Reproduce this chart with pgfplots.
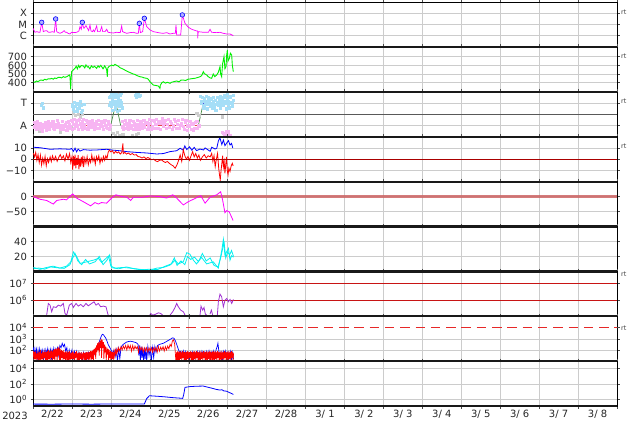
\documentclass[border=0pt]{standalone}
\usepackage{fontspec}
\setmainfont{DejaVu Sans}
\usepackage{pgfplots}
\pgfplotsset{compat=1.18}
\definecolor{mag}{RGB}{255,0,255}
\definecolor{grn}{RGB}{0,240,0}
\definecolor{cyn}{RGB}{0,240,240}
\definecolor{purp}{RGB}{160,50,210}
\definecolor{pinkpt}{RGB}{247,180,242}
\definecolor{bluept}{RGB}{165,222,247}
\definecolor{graypt}{RGB}{205,205,205}
\definecolor{sred}{RGB}{230,70,70}
\definecolor{sgreen}{RGB}{70,140,70}
\definecolor{sblue}{RGB}{80,80,230}
\definecolor{dred}{RGB}{170,0,0}
\definecolor{lred}{RGB}{200,20,20}
\definecolor{dashred}{RGB}{230,40,40}
\definecolor{ired}{RGB}{205,100,100}
\definecolor{circfill}{RGB}{175,175,255}
\pgfplotsset{
  panel/.style={
    scale only axis, width=584pt, height=44.9pt,
    anchor=south west, xmin=0, xmax=15,
    xtick={0,...,15}, xticklabels={},
    grid=major, major grid style={draw=black!20, line width=0.5pt},
    axis line style={black, line width=0.6pt},
    tick style={black!70, line width=0.4pt}, major tick length=2.5pt,
    tick align=outside, xtick pos=both, ytick pos=both,
    tick label style={font=\fontsize{10}{12}\selectfont, text=black!85},
    /pgf/number format/assume math mode=true,
    clip=true,
  },
  dots/.style={only marks, mark=square*, mark size=1.1pt, color=#1, mark options={draw=#1, fill=#1, line width=0.1pt}},
}
\begin{document}
\begin{tikzpicture}
\path[use as bounding box] (0,0) rectangle (634pt,424pt);

% Panel 1: X-ray flux
\begin{axis}[panel, at={(33pt,377.1pt)}, ymin=-7, ymax=-3,
  ytick={-6,-5,-4}, yticklabels={C,M,X}]
\addplot[mag, line width=0.7pt] coordinates {
(0.00,-5.34) (0.05,-5.70) (0.10,-5.64) (0.15,-5.70) (0.18,-5.70) (0.223,-4.81) (0.265,-5.64) (0.30,-5.58) (0.351,-5.55) (0.40,-5.70) (0.437,-5.70) (0.50,-5.64) (0.548,-5.70) (0.582,-4.51) (0.608,-5.64) (0.65,-5.73) (0.694,-5.79) (0.75,-5.70) (0.80,-5.55) (0.83,-5.70) (0.865,-5.70) (0.90,-5.79) (0.95,-5.85) (0.993,-5.70) (1.05,-5.73) (1.122,-5.70) (1.18,-5.58) (1.207,-5.19) (1.24,-5.43) (1.267,-4.81) (1.29,-5.19) (1.31,-5.34) (1.361,-5.10) (1.396,-5.34) (1.43,-5.55) (1.464,-5.04) (1.49,-5.58) (1.53,-5.64) (1.550,-5.49) (1.58,-5.64) (1.635,-5.13) (1.66,-5.64) (1.721,-5.64) (1.764,-5.19) (1.79,-5.64) (1.849,-5.64) (1.892,-5.43) (1.93,-5.70) (1.978,-5.73) (2.064,-5.76) (2.149,-5.70) (2.24,-5.73) (2.278,-5.13) (2.30,-5.64) (2.406,-5.79) (2.492,-5.73) (2.577,-5.70) (2.663,-5.79) (2.706,-5.79) (2.731,-4.90) (2.757,-5.73) (2.817,-5.64) (2.860,-4.45) (2.92,-5.19) (3.005,-5.49) (3.091,-5.64) (3.177,-5.70) (3.26,-5.76) (3.348,-5.79) (3.434,-5.73) (3.519,-5.85) (3.605,-5.79) (3.656,-5.79) (3.673,-5.04) (3.690,-5.94) (3.793,-5.94) (3.836,-4.15) (3.904,-4.90) (3.99,-5.25) (4.076,-5.43) (4.204,-5.58) (4.228,-5.58) (4.230,-6.23) (4.245,-5.64) (4.375,-5.70) (4.504,-5.70) (4.547,-5.43) (4.589,-5.70) (4.717,-5.73) (4.803,-5.70) (4.889,-5.79) (4.975,-5.85) (5.06,-5.85) (5.145,-6.00)
};
\addplot[only marks, mark=*, mark size=2.3pt, mark options={draw=blue, fill=circfill, line width=0.6pt}] coordinates {
(0.223,-4.81) (0.582,-4.51) (1.267,-4.81) (2.731,-4.90) (2.860,-4.45) (3.836,-4.15)
};
\end{axis}

% Panel 2: speed
\begin{axis}[panel, at={(33pt,332.2pt)}, ymin=295, ymax=813,
  ytick={400,500,600,700}, yticklabels={400,500,600,700}]
\addplot[grn, line width=0.9pt] coordinates {
(0.009,411) (0.05,405) (0.09,420) (0.13,412) (0.18,428) (0.223,431) (0.26,425) (0.30,440) (0.34,432) (0.39,445) (0.437,443) (0.48,450) (0.52,440) (0.56,455) (0.60,448) (0.65,462) (0.694,462) (0.73,455) (0.78,470) (0.82,462) (0.865,469) (0.90,478) (0.933,489) (0.950,470) (0.968,324) (0.975,420) (0.993,527) (1.03,545) (1.079,566) (1.11,590) (1.14,560) (1.17,600) (1.20,575) (1.24,598) (1.293,593) (1.33,570) (1.36,605) (1.40,580) (1.421,585) (1.46,560) (1.50,595) (1.54,575) (1.58,590) (1.635,566) (1.67,595) (1.70,578) (1.74,600) (1.764,585) (1.80,560) (1.84,595) (1.87,575) (1.892,546) (1.909,469) (1.92,570) (1.96,590) (2.00,598) (2.021,604) (2.06,595) (2.106,612) (2.15,600) (2.19,590) (2.235,573) (2.30,560) (2.35,548) (2.406,535) (2.45,525) (2.50,515) (2.577,500) (2.62,495) (2.68,480) (2.749,469) (2.80,465) (2.86,455) (2.920,451) (2.96,440) (3.005,411) (3.05,390) (3.091,373) (3.15,368) (3.219,362) (3.262,335) (3.27,370) (3.31,400) (3.348,411) (3.40,395) (3.45,405) (3.519,393) (3.56,405) (3.62,412) (3.690,420) (3.75,410) (3.80,430) (3.862,431) (3.92,425) (3.98,440) (4.033,443) (4.10,448) (4.17,452) (4.23,460) (4.290,469) (4.33,480) (4.375,527) (4.40,505) (4.461,489) (4.50,470) (4.55,455) (4.589,451) (4.63,500) (4.67,470) (4.718,489) (4.76,520) (4.803,585) (4.82,500) (4.846,469) (4.87,620) (4.906,700) (4.93,560) (4.958,585) (4.975,720) (4.992,777) (5.01,650) (5.043,681) (5.07,740) (5.103,720) (5.12,600) (5.146,527)
};
\end{axis}

% Panel 3: sector
\begin{axis}[panel, at={(33pt,287.3pt)}, ymin=-2, ymax=2,
  ytick={-1,1}, yticklabels={A,T}]
\addplot[black!65, line width=0.7pt] coordinates {(0,0) (15,0)};
\addplot[dots=graypt] coordinates {
(1.02,0.1) (1.08,-0.1) (1.15,0.05) (1.2,-0.2) (1.25,0.0) (2.05,-1.7) (2.1,-1.9) (2.15,-1.6) (2.2,-1.85) (2.65,-1.8) (2.7,-1.7) (2.05,1.9) (2.12,1.85) (2.2,1.9) (4.2,0.1) (4.25,-0.1) (4.85,-0.2) (5.0,-1.9) (0.15,-1.5) (0.7,-1.6) (2.3,-1.75) (2.55,-1.85)
};
\addplot[dots=pinkpt] coordinates {
(0.02,-1.1) (0.05,-0.9) (0.08,-1.2) (0.1,-1.0) (0.12,-0.8) (0.15,-1.05) (0.18,-1.3) (0.21,-0.95) (0.24,-1.15) (0.27,-0.85) (0.3,-1.0) (0.33,-1.4) (0.36,-0.9) (0.4,-1.1) (0.44,-0.75) (0.48,-1.0) (0.52,-1.2) (0.56,-0.9) (0.6,-1.05) (0.64,-0.8) (0.68,-1.15) (0.72,-0.95) (0.76,-1.3) (0.8,-1.0) (0.84,-0.7) (0.88,-1.1) (0.92,-0.9) (0.96,-1.25) (1.0,-0.6) (1.03,-0.9) (1.06,-1.2) (1.1,-0.7) (1.13,-1.0) (1.16,-0.55) (1.2,-0.85) (1.23,-1.1) (1.27,-0.65) (1.3,-0.9) (1.34,-1.2) (1.38,-0.7) (1.42,-1.0) (1.46,-0.8) (1.5,-1.15) (1.54,-0.75) (1.58,-1.0) (1.62,-0.6) (1.66,-0.9) (1.7,-1.2) (1.74,-0.8) (1.78,-1.05) (1.82,-0.7) (1.86,-0.95) (1.9,-1.25) (1.94,-0.85) (1.98,-1.0)
(2.3,-1.1) (2.34,-0.9) (2.38,-1.2) (2.42,-1.0) (2.46,-0.8) (2.5,-1.1) (2.54,-0.95) (2.58,-1.3) (2.62,-1.0) (2.66,-0.85) (2.7,-1.15) (2.74,-0.9) (2.78,-1.0) (2.82,-0.85) (2.86,-1.1) (2.92,-0.7) (2.96,-1.0) (3.0,-0.75) (3.05,-1.05) (3.1,-0.6) (3.15,-0.9) (3.2,-1.2) (3.25,-0.8) (3.3,-0.65) (3.35,-1.0) (3.4,-0.55) (3.45,-0.9) (3.5,-1.15) (3.55,-0.75) (3.6,-1.0) (3.65,-0.6) (3.7,-0.9) (3.75,-1.2) (3.8,-0.8) (3.85,-1.05) (3.9,-0.7) (3.95,-1.4) (4.0,-1.0) (4.05,-1.3) (4.1,-0.9) (4.15,-1.2) (4.2,-0.6) (4.25,-1.0) (4.85,-1.6) (4.9,-1.8) (4.95,-1.5) (5.0,-1.7) (5.05,-1.9)
(0.03,-0.7) (0.07,-1.35) (0.11,-0.6) (0.14,-1.25) (0.19,-0.75) (0.23,-1.45) (0.26,-1.1) (0.31,-0.7) (0.35,-1.2) (0.38,-0.6) (0.42,-1.3) (0.46,-0.95) (0.5,-0.65) (0.54,-1.35) (0.58,-1.1) (0.62,-0.55) (0.66,-1.0) (0.7,-1.35) (0.74,-0.6) (0.78,-1.15) (0.82,-0.9) (0.86,-1.4) (0.9,-0.65) (0.94,-1.1) (0.98,-0.5) (1.01,-1.3) (1.05,-0.4) (1.08,-1.0) (1.12,-0.5) (1.15,-1.35) (1.18,-0.4) (1.22,-0.75) (1.25,-1.3) (1.29,-0.45) (1.32,-1.1) (1.36,-0.5) (1.4,-1.3) (1.44,-0.6) (1.48,-0.95) (1.52,-0.5) (1.56,-1.3) (1.6,-0.85) (1.64,-1.2) (1.68,-0.55) (1.72,-1.05) (1.76,-0.6) (1.8,-1.3) (1.84,-0.5) (1.88,-1.1) (1.92,-0.6) (1.96,-1.35)
(2.28,-0.6) (2.32,-1.35) (2.36,-0.55) (2.4,-0.75) (2.44,-1.3) (2.48,-0.5) (2.52,-1.25) (2.56,-0.6) (2.6,-0.8) (2.64,-1.35) (2.68,-0.5) (2.72,-1.3) (2.76,-0.6) (2.8,-1.25) (2.84,-0.5) (2.88,-0.75) (2.94,-1.3) (2.98,-0.45) (3.02,-1.3) (3.07,-0.5) (3.12,-1.25) (3.17,-0.4) (3.22,-0.6) (3.27,-1.3) (3.32,-0.35) (3.37,-0.75) (3.42,-1.25) (3.47,-0.4) (3.52,-0.6) (3.57,-1.3) (3.62,-0.4) (3.67,-1.25) (3.72,-0.5) (3.77,-0.95) (3.82,-0.45) (3.87,-1.3) (3.92,-0.5) (3.97,-1.0) (4.02,-0.6) (4.07,-0.8) (4.12,-1.4) (4.17,-0.7) (4.22,-1.2) (4.88,-1.65) (4.93,-1.75) (5.02,-1.55)
};
\addplot[dots=bluept] coordinates {
(0.2,0.8) (0.23,1.0) (0.25,0.6) (1.0,0.9) (1.03,0.5) (1.06,1.1) (1.09,0.7) (1.12,0.3) (1.15,0.95) (1.18,0.6) (1.21,1.2) (1.24,0.8) (1.27,0.4) (1.3,0.9) (1.95,1.5) (1.98,1.1) (2.0,0.7) (2.02,1.8) (2.04,1.3) (2.06,0.9) (2.08,1.6) (2.1,0.5) (2.12,1.2) (2.14,1.85) (2.16,0.8) (2.18,1.4) (2.2,1.0) (2.22,0.4) (2.24,1.7) (2.26,1.1) (2.28,0.6) (2.62,1.7) (2.65,1.5) (2.68,1.8) (2.71,1.6) (2.74,1.7) (4.3,1.6) (4.33,1.2) (4.36,0.8) (4.39,1.4) (4.42,0.9) (4.45,1.1) (4.48,0.5) (4.51,1.3) (4.54,0.7) (4.57,1.0) (4.6,0.6) (4.63,1.2) (4.66,0.9) (4.69,0.4) (4.72,1.1) (4.75,0.8) (4.78,1.3) (4.81,0.6) (4.84,1.5) (4.87,1.0) (4.9,1.7) (4.93,1.2) (4.96,0.5) (4.99,1.4) (5.02,0.9) (5.05,1.6) (5.08,1.1) (5.11,0.7) (5.14,1.3)
(1.01,0.7) (1.05,0.3) (1.1,1.0) (1.14,0.5) (1.19,0.9) (1.23,0.2) (1.96,0.8) (1.99,1.6) (2.01,1.0) (2.03,0.4) (2.05,1.5) (2.07,1.1) (2.09,1.9) (2.11,0.8) (2.13,1.5) (2.15,0.3) (2.17,1.1) (2.19,1.7) (2.21,0.7) (2.23,1.3) (2.25,1.9) (2.27,0.9) (2.64,1.85) (2.7,1.9) (4.31,1.0) (4.35,1.5) (4.38,0.6) (4.41,1.2) (4.44,1.6) (4.47,0.9) (4.5,1.5) (4.53,1.0) (4.56,1.4) (4.59,0.8) (4.62,1.5) (4.65,0.6) (4.68,1.3) (4.71,0.9) (4.74,1.5) (4.77,1.0) (4.8,1.6) (4.83,0.9) (4.86,1.3) (4.89,0.8) (4.92,1.5) (4.95,1.0) (4.98,1.8) (5.01,1.2) (5.04,0.6) (5.07,1.5) (5.1,1.0) (5.13,1.7)
};
\addplot[sred, line width=0.8pt] coordinates {(0,-1) (1.995,-1)};
\addplot[sgreen, line width=0.7pt] coordinates {(1.995,-1) (2.13,1) (2.252,-1)};
\addplot[sred, line width=0.8pt] coordinates {(2.252,-1) (4.247,-1)};
\addplot[sgreen, line width=0.7pt] coordinates {(4.247,-1) (4.375,1)};
\addplot[sblue, line width=0.8pt] coordinates {(4.375,1) (5.018,1)};
\end{axis}

% Panel 4: Bt / Bz
\begin{axis}[panel, at={(33pt,242.4pt)}, ymin=-20, ymax=20,
  ytick={-10,0,10}, yticklabels={−10,0,10}]
\addplot[blue, line width=0.8pt] coordinates {
(0.01,10.6) (0.18,10.2) (0.44,8.8) (0.69,9.2) (0.95,8.8) (0.99,9.5) (1.04,7.0) (1.08,9.8) (1.12,6.5) (1.16,9.0) (1.21,7.2) (1.29,8.5) (1.46,8.0) (1.64,8.2) (1.89,8.8) (2.06,8.0) (2.23,7.5) (2.41,6.7) (2.66,6.0) (2.92,5.5) (3.18,4.6) (3.35,5.0) (3.52,6.7) (3.69,7.5) (3.78,9.7) (3.86,8.0) (3.90,11.8) (3.95,8.5) (4.02,11.0) (4.08,8.0) (4.14,10.5) (4.20,7.6) (4.29,9.0) (4.38,8.2) (4.42,10.0) (4.55,7.0) (4.59,10.6) (4.68,9.0) (4.72,9.7) (4.76,16.0) (4.80,19.2) (4.85,13.0) (4.89,17.1) (4.93,12.0) (4.97,14.1) (5.02,16.5) (5.06,12.6) (5.10,14.0) (5.13,10.0)
};
\addplot[red, line width=0.8pt] coordinates {
(0.01,5.2) (0.04,2.0) (0.07,6.0) (0.10,-1.0) (0.13,4.0) (0.16,-3.0) (0.19,3.5) (0.22,-5.2) (0.25,1.0) (0.28,-4.0) (0.31,2.5) (0.34,-6.0) (0.37,0.5) (0.40,-3.0) (0.44,2.0) (0.47,-2.2) (0.50,3.0) (0.54,-1.0) (0.58,2.5) (0.62,-2.0) (0.66,1.5) (0.70,4.0) (0.74,0.5) (0.78,3.0) (0.82,-1.5) (0.86,4.5) (0.90,0.0) (0.94,5.0) (0.97,-3.0) (1.00,2.0) (1.02,-9.6) (1.04,3.0) (1.06,-6.0) (1.08,4.0) (1.10,-8.1) (1.12,1.0) (1.14,-5.0) (1.16,3.5) (1.18,-9.0) (1.20,0.5) (1.22,-6.7) (1.24,2.0) (1.26,-4.0) (1.28,3.0) (1.30,-7.0) (1.33,1.0) (1.36,-3.7) (1.39,2.3) (1.42,-5.0) (1.45,0.0) (1.48,-3.0) (1.51,3.7) (1.54,-2.0) (1.57,1.5) (1.60,-4.5) (1.63,2.3) (1.66,-1.0) (1.69,3.0) (1.72,-3.7) (1.75,1.0) (1.78,-2.0) (1.81,2.5) (1.84,-1.0) (1.87,3.0) (1.90,0.5) (1.93,6.0) (1.96,8.1) (2.00,6.5) (2.04,7.5) (2.08,5.0) (2.12,7.0) (2.16,5.5) (2.20,6.5) (2.24,4.5) (2.28,6.0) (2.31,14.1) (2.32,5.0) (2.36,6.0) (2.40,4.5) (2.45,5.5) (2.50,4.0) (2.55,5.0) (2.60,3.7) (2.65,4.0) (2.70,2.3) (2.75,2.0) (2.80,1.0) (2.85,2.0) (2.90,0.5) (2.95,1.5) (3.00,0.5) (3.05,-0.5) (3.10,0.0) (3.15,-1.5) (3.20,-2.2) (3.25,-1.0) (3.30,-0.7) (3.35,-2.0) (3.40,-3.0) (3.45,-2.0) (3.50,-3.7) (3.55,-5.0) (3.60,-6.0) (3.65,-8.1) (3.70,-5.0) (3.74,-1.0) (3.78,3.7) (3.82,-2.0) (3.86,8.4) (3.90,3.0) (3.94,0.0) (3.98,2.3) (4.02,-1.0) (4.06,3.0) (4.10,6.7) (4.14,2.0) (4.18,5.0) (4.22,1.0) (4.26,3.7) (4.30,-1.0) (4.35,2.0) (4.40,4.0) (4.45,1.0) (4.50,3.0) (4.55,2.0) (4.59,5.2) (4.62,-2.0) (4.65,3.0) (4.68,-6.7) (4.71,0.0) (4.74,5.0) (4.77,-8.0) (4.79,-14.0) (4.81,-18.5) (4.83,-10.0) (4.85,-4.0) (4.87,3.0) (4.89,-6.7) (4.91,-2.0) (4.93,-12.6) (4.95,-5.0) (4.97,2.0) (4.99,-10.0) (5.01,-14.0) (5.03,-8.0) (5.06,-11.0) (5.09,-6.0) (5.12,-3.7) (5.14,-6.0)
};
\addplot[dred, line width=0.7pt] coordinates {(0,0) (15,0)};
\end{axis}

% Panel 5: Dst
\begin{axis}[panel, at={(33pt,197.5pt)}, ymin=-100, ymax=50,
  ytick={-50,0}, yticklabels={−50,0}]
\addplot[ired, line width=2.2pt, opacity=0.85] coordinates {(0,0) (15,0)};
\addplot[mag, line width=0.8pt] coordinates {
(0.01,0) (0.18,-9) (0.35,-13) (0.52,-25) (0.61,-13) (0.78,-9) (0.86,-11) (1.02,9) (1.12,-5) (1.29,-17) (1.48,-31) (1.59,-20) (1.68,-25) (1.76,-20) (1.89,-22) (2.02,-5) (2.13,6) (2.28,0) (2.41,-2) (2.51,-13) (2.58,-2) (2.83,-2) (3.01,2) (3.26,0) (3.43,-5) (3.59,6) (3.69,-5) (3.86,-28) (3.99,-17) (4.12,-9) (4.31,3) (4.42,-22) (4.55,-2) (4.72,6) (4.82,16) (4.87,-11) (4.93,-54) (4.97,-47) (5.04,-51) (5.14,-80)
};
\end{axis}

% Panel 6: density
\begin{axis}[panel, at={(33pt,152.6pt)}, ymin=0, ymax=60,
  ytick={20,40}, yticklabels={20,40}]
\addplot[cyn, line width=0.8pt] coordinates {
(0.01,3.5) (0.15,4.5) (0.30,3.0) (0.45,6.0) (0.60,5.0) (0.80,4.0) (0.95,9.0) (1.02,18) (1.08,24) (1.15,14) (1.25,9) (1.35,16) (1.45,10) (1.6,13) (1.7,20) (1.8,9) (1.9,15) (1.97,22) (2.02,5) (2.2,3.5) (2.4,6) (2.6,3.5) (2.8,2) (3.0,3) (3.2,2.5) (3.4,7) (3.55,10) (3.63,18) (3.7,8) (3.8,14) (3.9,9) (3.97,20) (4.05,16) (4.15,19) (4.25,13) (4.35,24) (4.45,14) (4.55,18) (4.65,8) (4.75,6) (4.82,18) (4.87,30) (4.91,38) (4.95,18) (5.0,26) (5.05,22) (5.1,28) (5.15,20)
};
\addplot[cyn, line width=0.8pt] coordinates {
(0.01,5.3) (0.18,2.7) (0.35,5.3) (0.52,7) (0.69,4.4) (0.86,7) (0.97,12.8) (1.04,26) (1.12,20) (1.21,10.7) (1.38,12.8) (1.55,15) (1.68,17.4) (1.76,12) (1.94,20.5) (2.00,7) (2.11,4.4) (2.32,5.3) (2.49,4.4) (2.75,2.7) (3.01,1.8) (3.18,4.4) (3.35,5.3) (3.52,8.4) (3.65,15) (3.73,10) (3.86,12.8) (3.95,25) (4.03,23) (4.12,15) (4.20,10) (4.33,18.7) (4.46,10) (4.63,12.8) (4.76,4.4) (4.85,28.5) (4.89,42.8) (4.93,22) (5.02,30.7) (5.06,15) (5.10,21) (5.15,19)
};
\end{axis}

% Panel 7: electrons
\begin{axis}[panel, at={(33pt,107.7pt)}, ymin=5.03, ymax=7.72,
  ytick={6,7}, yticklabels={10\textsuperscript{6},10\textsuperscript{7}}]
\addplot[color=lred, line width=0.8pt] coordinates {(0,6) (15,6)};
\addplot[color=lred, line width=0.8pt] coordinates {(0,7) (15,7)};
\addplot[purp, line width=0.8pt] coordinates {
(0.351,5.10) (0.394,5.80) (0.437,5.70) (0.480,5.30) (0.522,5.60) (0.591,5.56) (0.651,5.70) (0.711,5.64) (0.779,5.80) (0.822,5.20) (0.865,5.10) (0.933,5.70) (0.993,5.80) (1.036,5.56) (1.105,5.80) (1.164,5.64) (1.224,5.74) (1.293,5.60) (1.361,5.80) (1.421,5.66) (1.507,5.80) (1.567,5.90) (1.618,5.70) (1.678,5.80) (1.738,5.60) (1.807,5.64) (1.875,5.60) (1.918,5.20) (1.944,5.04)
};
\addplot[purp, line width=0.8pt] coordinates {(2.988,5.04) (3.022,5.20) (3.074,5.10) (3.134,5.14) (3.219,5.24) (3.279,5.20) (3.331,5.10)};
\addplot[purp, line width=0.8pt] coordinates {(3.519,5.10) (3.588,5.30) (3.648,5.56) (3.690,5.80) (3.733,5.60) (3.793,5.40) (3.862,5.30) (3.904,5.10)};
\addplot[purp, line width=0.8pt] coordinates {(4.290,5.10) (4.315,5.64) (4.358,5.40) (4.392,5.56) (4.427,5.16) (4.461,5.10)};
\addplot[purp, line width=0.8pt] coordinates {(4.547,5.16) (4.581,5.40) (4.615,5.10)};
\addplot[purp, line width=0.8pt] coordinates {(4.735,5.10) (4.761,5.90) (4.803,6.36) (4.846,6.20) (4.889,5.60) (4.932,6.00) (4.975,6.10) (5.018,5.90) (5.061,6.04) (5.104,5.80) (5.147,6.04)};
\end{axis}

% Panel 8: protons/electrons
\begin{axis}[panel, at={(33pt,62.8pt)}, ymin=1, ymax=5,
  ytick={2,3}, yticklabels={10\textsuperscript{2},10\textsuperscript{3}},
  extra y ticks={4}, extra y tick labels={10\textsuperscript{4}},
  extra y tick style={grid=none}]
\addplot[blue, line width=0.7pt] coordinates {
(0.01,2.23) (0.03,1.3) (0.05,2.1) (0.07,1.6) (0.09,2.05) (0.11,1.1) (0.13,2.0) (0.15,1.5) (0.17,2.05) (0.19,1.2) (0.21,1.95) (0.23,1.7) (0.25,2.0) (0.27,1.0) (0.29,1.9) (0.31,1.4) (0.33,2.0) (0.35,1.6) (0.37,2.05) (0.39,1.2) (0.41,1.95) (0.43,1.5) (0.45,2.0) (0.47,1.1) (0.49,2.0) (0.51,1.7) (0.53,2.1) (0.55,1.3) (0.57,2.1) (0.60,1.8) (0.63,2.2) (0.66,1.5) (0.69,2.4) (0.72,2.2) (0.75,2.6) (0.78,2.3) (0.81,2.5) (0.84,1.9) (0.87,2.2) (0.90,1.3) (0.93,2.0) (0.96,1.5) (1.0,2.0) (1.03,1.2) (1.06,1.9) (1.09,1.6) (1.12,1.9) (1.15,1.1) (1.18,1.8) (1.21,1.4) (1.24,1.7) (1.27,1.0) (1.30,1.8) (1.33,1.5) (1.36,1.75) (1.39,1.2) (1.42,1.8) (1.45,1.6) (1.48,1.8) (1.51,1.3) (1.54,1.85) (1.57,1.6) (1.60,1.9) (1.63,2.1) (1.66,2.3) (1.69,2.6) (1.72,2.9) (1.75,3.2) (1.78,3.4) (1.81,3.35) (1.84,3.2) (1.87,3.05) (1.90,2.8) (1.93,2.5) (1.96,2.3) (1.99,2.1) (2.02,1.9) (2.05,1.7) (2.08,2.0) (2.11,1.4) (2.14,2.0) (2.17,1.0) (2.20,2.1) (2.23,1.2) (2.26,2.2) (2.29,2.4) (2.32,2.5) (2.36,2.6) (2.40,2.7) (2.45,2.75) (2.50,2.78) (2.55,2.75) (2.60,2.7) (2.65,2.65) (2.70,2.5) (2.72,1.5) (2.74,2.4) (2.76,1.0) (2.78,2.3) (2.80,1.3) (2.82,2.2) (2.84,1.0) (2.86,2.0) (2.88,1.2) (2.90,2.2) (2.92,1.0) (2.95,2.3) (2.98,1.5) (3.01,2.1) (3.04,1.0) (3.07,2.2) (3.10,1.3) (3.13,2.3) (3.16,1.8) (3.20,2.4) (3.25,2.5) (3.30,2.55) (3.35,2.6) (3.40,2.7) (3.45,2.8) (3.50,2.9) (3.55,3.0) (3.58,3.08) (3.62,3.05) (3.66,2.8) (3.70,2.4) (3.73,2.1) (3.76,1.8) (3.80,1.9) (3.83,1.4) (3.86,1.9) (3.89,1.2) (3.92,1.85) (3.95,1.5) (3.98,1.8) (4.01,1.0) (4.04,1.75) (4.07,1.3) (4.10,1.8) (4.13,1.1) (4.16,1.8) (4.19,1.5) (4.22,1.85) (4.25,1.0) (4.28,1.8) (4.31,1.3) (4.34,1.9) (4.37,1.6) (4.40,1.8) (4.43,1.1) (4.46,1.85) (4.49,1.4) (4.52,1.9) (4.55,1.0) (4.58,1.8) (4.61,1.5) (4.64,1.9) (4.67,1.2) (4.70,2.0) (4.73,2.3) (4.75,2.6) (4.77,2.0) (4.80,1.3) (4.83,1.8) (4.86,1.0) (4.89,1.85) (4.92,1.4) (4.95,1.9) (4.98,1.1) (5.01,1.8) (5.04,1.3) (5.07,1.85) (5.10,1.0) (5.13,1.75) (5.15,1.2)
};
\addplot[red, line width=0.7pt] coordinates {
(0.01,1.9) (0.02,1.0) (0.04,1.8) (0.05,1.2) (0.07,1.9) (0.08,1.0) (0.10,1.7) (0.11,1.3) (0.13,1.9) (0.14,1.0) (0.16,1.8) (0.17,1.1) (0.19,2.0) (0.20,1.0) (0.22,1.7) (0.23,1.2) (0.25,1.9) (0.26,1.0) (0.28,1.8) (0.29,1.3) (0.31,2.0) (0.32,1.0) (0.34,1.8) (0.35,1.1) (0.37,1.9) (0.38,1.0) (0.40,2.0) (0.41,1.2) (0.43,1.85) (0.44,1.0) (0.46,2.0) (0.47,1.3) (0.49,1.9) (0.50,1.0) (0.52,2.0) (0.53,1.2) (0.55,2.05) (0.56,1.0) (0.58,2.1) (0.59,1.4) (0.61,2.15) (0.62,1.0) (0.64,2.2) (0.65,1.5) (0.67,2.3) (0.68,1.1) (0.70,2.1) (0.71,1.0) (0.73,2.0) (0.74,1.3) (0.76,1.9) (0.77,1.0) (0.79,2.0) (0.80,1.2) (0.82,1.8) (0.83,1.0) (0.85,1.9) (0.86,1.3) (0.88,1.7) (0.89,1.0) (0.91,1.8) (0.92,1.1) (0.94,1.9) (0.95,1.0) (0.97,1.7) (0.98,1.2) (1.00,1.8) (1.01,1.0) (1.03,1.9) (1.04,1.2) (1.06,1.7) (1.07,1.0) (1.09,1.8) (1.10,1.3) (1.12,1.9) (1.13,1.0) (1.15,1.7) (1.16,1.1) (1.18,1.8) (1.19,1.0) (1.21,1.75) (1.22,1.2) (1.24,1.8) (1.25,1.0) (1.27,1.7) (1.28,1.3) (1.30,1.8) (1.31,1.0) (1.33,1.75) (1.34,1.1) (1.36,1.8) (1.37,1.0) (1.39,1.8) (1.40,1.2) (1.42,1.85) (1.43,1.0) (1.45,1.8) (1.46,1.4) (1.48,1.9) (1.49,1.0) (1.51,1.9) (1.52,1.2) (1.54,2.0) (1.55,1.0) (1.57,2.1) (1.58,1.6) (1.60,2.2) (1.61,1.2) (1.63,2.4) (1.64,1.8) (1.66,2.6) (1.67,2.0) (1.69,2.7) (1.70,1.5) (1.72,2.8) (1.73,2.2) (1.75,3.0) (1.76,1.3) (1.78,2.9) (1.79,2.2) (1.81,2.7) (1.82,1.2) (1.84,2.5) (1.85,1.8) (1.87,2.3) (1.88,1.0) (1.90,2.2) (1.91,1.6) (1.93,2.1) (1.94,1.0) (1.96,2.0) (1.97,1.3) (1.99,1.9) (2.00,1.0) (2.02,1.85) (2.03,1.2) (2.05,1.8) (2.06,1.0) (2.08,1.9) (2.10,1.4) (2.12,2.0) (2.14,1.6) (2.16,2.1) (2.18,1.8) (2.20,2.2) (2.23,1.9) (2.26,2.3) (2.29,2.0) (2.32,2.35) (2.35,2.1) (2.38,2.4) (2.41,2.0) (2.44,2.45) (2.47,2.1) (2.50,2.4) (2.53,1.9) (2.56,2.4) (2.59,2.0) (2.62,2.35) (2.65,2.1) (2.68,2.3) (2.71,1.8) (2.74,2.3) (2.77,2.0) (2.80,2.25) (2.83,1.8) (2.86,2.2) (2.89,1.9) (2.92,2.2) (2.95,1.8) (2.98,2.2) (3.01,1.9) (3.04,2.2) (3.07,1.8) (3.10,2.2) (3.13,1.9) (3.16,2.25) (3.19,1.8) (3.22,2.3) (3.25,1.9) (3.28,2.25) (3.31,2.0) (3.34,2.3) (3.37,1.9) (3.40,2.3) (3.43,2.0) (3.46,2.35) (3.49,2.1) (3.52,2.5) (3.55,2.3) (3.58,2.8) (3.61,2.9) (3.64,2.5) (3.66,1.5) (3.67,1.0) (3.69,1.8) (3.70,1.0) (3.72,1.9) (3.73,1.1) (3.75,1.85) (3.76,1.0) (3.78,1.9) (3.79,1.2) (3.81,1.8) (3.82,1.0) (3.84,1.9) (3.85,1.3) (3.87,1.8) (3.88,1.0) (3.90,1.85) (3.91,1.1) (3.93,1.8) (3.94,1.0) (3.96,1.9) (3.97,1.2) (3.99,1.85) (4.00,1.0) (4.02,1.8) (4.03,1.3) (4.05,1.9) (4.06,1.0) (4.08,1.8) (4.09,1.1) (4.11,1.85) (4.12,1.0) (4.14,1.9) (4.15,1.2) (4.17,1.8) (4.18,1.0) (4.20,1.9) (4.21,1.3) (4.23,1.85) (4.24,1.0) (4.26,1.8) (4.27,1.1) (4.29,1.9) (4.30,1.0) (4.32,1.85) (4.33,1.2) (4.35,1.8) (4.36,1.0) (4.38,1.9) (4.39,1.3) (4.41,1.8) (4.42,1.0) (4.44,1.85) (4.45,1.1) (4.47,1.9) (4.48,1.0) (4.50,1.8) (4.51,1.2) (4.53,1.9) (4.54,1.0) (4.56,1.85) (4.57,1.3) (4.59,1.8) (4.60,1.0) (4.62,1.9) (4.63,1.1) (4.65,1.85) (4.66,1.0) (4.68,1.9) (4.69,1.2) (4.71,1.8) (4.72,1.0) (4.74,1.9) (4.75,1.3) (4.77,1.85) (4.78,1.0) (4.80,1.8) (4.81,1.1) (4.83,1.9) (4.84,1.0) (4.86,1.85) (4.87,1.2) (4.89,1.8) (4.90,1.0) (4.92,1.9) (4.93,1.3) (4.95,1.85) (4.96,1.0) (4.98,1.8) (4.99,1.1) (5.01,1.9) (5.02,1.0) (5.04,1.85) (5.05,1.2) (5.07,1.8) (5.08,1.0) (5.10,1.9) (5.11,1.3) (5.13,1.8) (5.14,1.0) (5.15,1.7)
};
\addplot[draw=dashred, color=dashred, line width=1.2pt, dash pattern={on 9.5pt off 5.8pt}] coordinates {(0,4) (15,4)};
\end{axis}

% Panel 9
\begin{axis}[panel, at={(33pt,17.9pt)}, ymin=-0.87, ymax=4.93,
  ytick={0,2,4}, yticklabels={10\textsuperscript{0},10\textsuperscript{2},10\textsuperscript{4}},
  extra x ticks={0.5,1.5,...,14.5},
  extra x tick labels={2/22,2/23,2/24,2/25,2/26,2/27,2/28,3/ 1,3/ 2,3/ 3,3/ 4,3/ 5,3/ 6,3/ 7,3/ 8},
  extra x tick style={grid=none, major tick length=0pt}]
\addplot[blue, line width=0.8pt] coordinates {
(0,-0.61) (0.5,-0.62) (1.0,-0.60) (1.5,-0.62) (2.0,-0.60) (2.5,-0.61) (2.86,-0.60) (2.92,0.10) (2.99,0.47) (3.2,0.40) (3.4,0.32) (3.6,0.22) (3.845,0.13) (3.87,0.60) (3.904,1.55) (4.033,1.65) (4.2,1.70) (4.375,1.72) (4.45,1.62) (4.59,1.45) (4.7,1.30) (4.80,1.20) (4.85,1.25) (4.9,1.10) (4.975,1.05) (5.146,0.64)
};
\end{axis}

% thick panel separators
\foreach \yy in {377.1,332.2,287.3,242.4,197.5,152.6,107.7,62.8,17.9}
  \draw[line width=2.2pt, black!90] (33pt,\yy pt) -- (617pt,\yy pt);

\node[anchor=north, font=\fontsize{10}{12}\selectfont, text=black!85, inner sep=3.33pt] at (15pt,15.05pt) {2023};

\foreach \yy in {412,367.3,323,278,150,96}
  \node[anchor=west, font=\fontsize{6.5}{7}\selectfont, text=black!75, inner sep=0pt] at (621pt,\yy pt) {rt};
\end{tikzpicture}
\end{document}
